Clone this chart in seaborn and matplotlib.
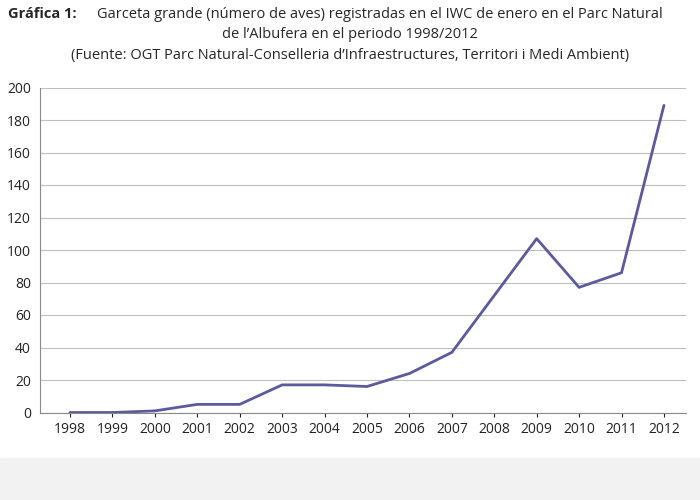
import matplotlib
matplotlib.use("Agg")
import matplotlib.pyplot as plt
import seaborn as sns
import pandas as pd

years = [str(y) for y in range(1998, 2013)]
birds = [0, 0, 1, 5, 5, 17, 17, 16, 24, 37, 72, 107, 77, 86, 189]

sns.set_style("white")
plt.rcParams['font.family'] = ['Open Sans', 'DejaVu Sans']

fig = plt.figure(figsize=(7, 5), dpi=100)
fig.patch.set_facecolor("white")
ax = fig.add_axes([0.057, 0.175, 0.923, 0.65])
df = pd.DataFrame({"year": years, "n": birds})
df["x"] = range(len(years))
sns.lineplot(data=df, x="x", y="n", ax=ax, color="#5b5b9c", linewidth=2)
ax.set_xlim(-0.71, 14.52)
ax.set_ylim(0, 200)
ax.set_yticks(range(0, 201, 20))
ax.set_xticks(range(len(years)))
ax.set_xticklabels(years)
ax.yaxis.grid(True, color="#bfbfbf", linewidth=0.8)
ax.set_xlabel("")
ax.set_ylabel("")
for s in ["top", "right"]:
    ax.spines[s].set_visible(False)
for s in ["left", "bottom"]:
    ax.spines[s].set_color("#888888")
ax.tick_params(labelsize=10, length=3, colors="#222222")
ax.tick_params(axis="x", direction="out", bottom=True)

fig.text(0.012, 0.972, "Gráfica 1:", ha="left", va="center", fontsize=10.5, fontweight="bold")
fig.text(0.138, 0.972, "Garceta grande (número de aves) registradas en el IWC de enero en el Parc Natural",
         ha="left", va="center", fontsize=10.5)
fig.text(0.5, 0.930, "de l’Albufera en el periodo 1998/2012", ha="center", va="center", fontsize=10.5)
fig.text(0.5, 0.888, "(Fuente: OGT Parc Natural-Conselleria d’Infraestructures, Territori i Medi Ambient)",
         ha="center", va="center", fontsize=10.5)
fig.patches.append(plt.Rectangle((0, 0), 1, 0.085, transform=fig.transFigure,
                                 color="#f2f2f2", zorder=-1))
fig.savefig("out.png", dpi=100)
